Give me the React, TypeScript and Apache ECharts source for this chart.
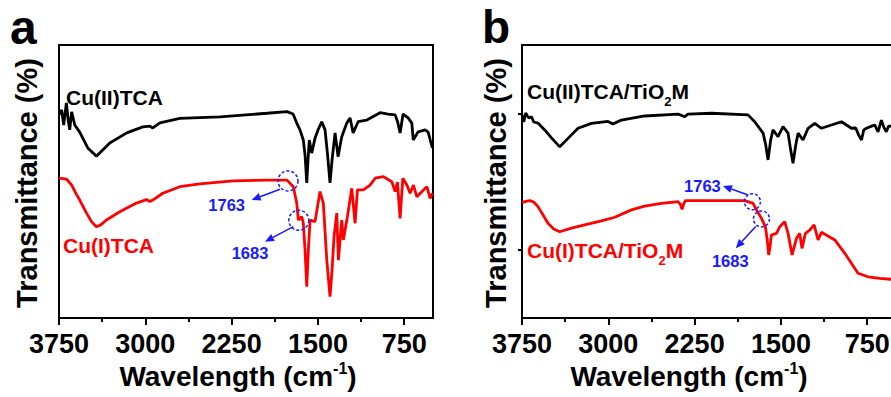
import React, { useEffect, useRef } from 'react';
import * as echarts from 'echarts';

const FONT = 'Liberation Sans, Arial, Helvetica, sans-serif';
const BLUE = '#1a1aff';

const X_TICKS = [3750, 3000, 2250, 1500, 750];
const X_MINOR = [3375, 2625, 1875, 1125];
const Y_TICKS_B = [25, 75];

// Panel a, Cu(II)TCA (black)
const aBlackWn = [3750, 3727, 3709, 3686, 3670, 3657, 3640, 3613, 3570, 3500, 3425, 3370, 3309, 3161, 3022, 2961, 2935, 2873, 2700, 2352, 1943, 1769, 1716, 1684, 1656, 1627, 1612, 1597, 1586, 1575, 1554, 1525, 1499, 1467, 1438, 1416, 1395, 1377, 1351, 1325, 1293, 1249, 1221, 1194, 1151, 1075, 960, 890, 829, 807, 786, 760, 716, 684, 672, 629, 568, 542, 524, 505];
const aBlackT = [74.4, 76.2, 70.7, 78.8, 72.5, 68.9, 75.5, 70.7, 68.1, 62.3, 59.3, 61.5, 64.1, 67.8, 70.0, 70.3, 69.6, 71.5, 73.1, 73.7, 75.0, 75.6, 74.7, 71.4, 68.9, 65.2, 59.7, 49.5, 57.9, 65.2, 60.4, 65.9, 68.9, 71.9, 68.9, 59.7, 49.5, 57.9, 67.8, 59.1, 66.4, 71.4, 73.3, 67.8, 71.9, 72.5, 75.2, 74.7, 74.4, 71.8, 67.8, 74.7, 73.3, 71.4, 65.2, 68.2, 68.9, 68.1, 65.2, 62.3];

// Panel a, Cu(I)TCA (red)
const aRedWn = [3750, 3686, 3640, 3596, 3570, 3512, 3466, 3425, 3387, 3338, 3222, 3077, 3022, 2990, 2961, 2935, 2848, 2700, 2526, 2239, 1943, 1769, 1714, 1684, 1670, 1641, 1627, 1612, 1597, 1583, 1568, 1525, 1482, 1453, 1423, 1395, 1377, 1360, 1336, 1322, 1293, 1279, 1244, 1206, 1177, 1157, 1105, 1047, 1003, 931, 858, 829, 809, 786, 762, 727, 699, 670, 640, 583, 553, 525, 505];
const aRedT = [51.2, 50.9, 48.7, 45.1, 43.2, 38.5, 35.2, 33.4, 34.1, 35.9, 38.9, 42.1, 42.9, 43.4, 42.7, 43.2, 45.7, 48.1, 49.1, 50.2, 50.5, 50.5, 48.1, 42.1, 35.9, 37.1, 34.8, 24.9, 11.5, 24.9, 35.9, 35.3, 46.3, 42.1, 21.2, 7.8, 17.6, 29.8, 38.4, 21.2, 35.9, 28.6, 37.1, 47.5, 34.7, 46.9, 46.9, 48.7, 51.2, 51.8, 49.9, 46.3, 49.8, 36.5, 51.2, 48.7, 45.7, 48.7, 44.4, 46.9, 48.1, 43.8, 45.7];

// Panel b, Cu(II)TCA/TiO2M (black)
const bBlackWn = [3750, 3735, 3718, 3692, 3668, 3648, 3611, 3553, 3492, 3422, 3350, 3263, 3147, 3003, 2959, 2886, 2684, 2394, 2336, 2308, 2104, 1786, 1728, 1655, 1632, 1612, 1589, 1569, 1525, 1482, 1438, 1415, 1395, 1371, 1351, 1308, 1264, 1206, 1148, 1061, 974, 887, 850, 824, 800, 780, 757, 711, 685, 656, 627, 607, 584, 564, 546, 500];
const bBlackT = [74.4, 71.8, 75.1, 73.3, 73.7, 71.8, 71.4, 68.9, 65.9, 62.7, 65.8, 69.5, 71.3, 72.0, 71.1, 72.5, 74.0, 74.7, 73.7, 74.7, 75.0, 74.4, 71.9, 67.7, 63.4, 57.9, 65.2, 68.9, 66.4, 70.1, 67.7, 61.5, 56.7, 63.4, 67.7, 65.2, 69.5, 71.3, 69.5, 70.7, 71.9, 69.5, 69.6, 67.0, 65.2, 68.9, 69.5, 70.3, 70.7, 68.2, 72.5, 70.0, 68.2, 70.3, 70.3, 70.0];

// Panel b, Cu(I)TCA/TiO2M (red)
const bRedWn = [3750, 3718, 3683, 3648, 3611, 3524, 3474, 3422, 3321, 3205, 3060, 2944, 2799, 2684, 2539, 2394, 2375, 2359, 2345, 2330, 2104, 1815, 1742, 1713, 1669, 1635, 1619, 1606, 1593, 1583, 1539, 1510, 1467, 1438, 1403, 1365, 1337, 1317, 1287, 1250, 1212, 1177, 1148, 1032, 945, 830, 743, 642, 546, 500];
const bRedT = [42.2, 42.7, 43.0, 42.5, 40.8, 34.7, 32.6, 31.6, 32.9, 34.1, 35.6, 36.9, 39.6, 41.0, 42.0, 42.6, 41.8, 39.8, 41.8, 43.0, 43.0, 43.0, 42.0, 39.6, 36.5, 33.4, 28.6, 23.1, 26.7, 30.4, 31.0, 33.4, 35.3, 31.0, 23.1, 29.2, 31.0, 25.5, 31.0, 32.2, 34.1, 28.6, 31.4, 28.6, 23.7, 16.4, 15.1, 14.5, 14.2, 14.0];

// annotation circles (wavenumber, transmittance)
const aCircles = [[1760, 50.2], [1666, 35.8]];
const bCircles = [[1748, 42.6], [1669, 36.3]];
const peakLabels = ['1763', '1683'];

const zip = (xs: number[], ys: number[]) => xs.map((x, i) => [x, ys[i]]);

function xAxesFor(gridIndex: number) {
  return [
    {
      gridIndex,
      type: 'value',
      inverse: true,
      min: 500,
      max: 3750,
      position: 'bottom',
      axisLine: { show: true, onZero: false, lineStyle: { color: '#000', width: 2 } },
      axisTick: { show: true, inside: false, length: 7, customValues: X_TICKS, lineStyle: { color: '#000', width: 2 } },
      axisLabel: {
        show: true,
        customValues: X_TICKS,
        margin: 12,
        color: '#000',
        fontSize: 27,
        fontWeight: 'bold',
        fontFamily: FONT,
        formatter: (v: number) => String(v),
      },
      splitLine: { show: false },
    },
    {
      gridIndex,
      type: 'value',
      inverse: true,
      min: 500,
      max: 3750,
      position: 'bottom',
      axisLine: { show: false, onZero: false },
      axisTick: { show: true, inside: false, length: 4, customValues: X_MINOR, lineStyle: { color: '#000', width: 2 } },
      axisLabel: { show: false },
      splitLine: { show: false },
    },
  ];
}

function yAxisFor(gridIndex: number, ticks: number[] | null) {
  return {
    gridIndex,
    type: 'value',
    min: 0,
    max: 100,
    axisLine: { show: false },
    axisTick: ticks
      ? { show: true, inside: false, length: 4, customValues: ticks, lineStyle: { color: '#000', width: 2 } }
      : { show: false },
    axisLabel: { show: false },
    splitLine: { show: false },
  };
}

function circleMark(coords: number[][], size: number) {
  return {
    symbol: 'circle',
    symbolSize: size,
    silent: true,
    label: { show: false },
    itemStyle: { color: 'rgba(0,0,0,0)', borderColor: BLUE, borderWidth: 1.5, borderType: [3, 2] },
    data: coords.map((c) => ({ coord: c })),
  };
}

function lineSeries(name: string, data: number[][], color: string, xi: number, yi: number, mark?: any) {
  return {
    name,
    type: 'line',
    xAxisIndex: xi,
    yAxisIndex: yi,
    data,
    showSymbol: false,
    symbol: 'none',
    lineStyle: { color, width: 2.8 },
    z: 2,
    markPoint: mark,
  };
}

function arrow(x1: number, y1: number, x2: number, y2: number) {
  const dx = x2 - x1;
  const dy = y2 - y1;
  const L = Math.hypot(dx, dy);
  const ux = dx / L;
  const uy = dy / L;
  const head = 9;
  const hw = 4;
  const bx = x2 - ux * head;
  const by = y2 - uy * head;
  return [
    { type: 'line', shape: { x1, y1, x2: bx, y2: by }, style: { stroke: BLUE, lineWidth: 1.5 } },
    {
      type: 'polygon',
      shape: { points: [[x2, y2], [bx - uy * hw, by + ux * hw], [bx + uy * hw, by - ux * hw]] },
      style: { fill: BLUE },
    },
  ];
}

function txt(text: string, x: number, y: number, size: number, color: string, align = 'left', rotation = 0) {
  return {
    type: 'text',
    x,
    y,
    rotation,
    style: {
      text,
      fill: color,
      fontSize: size,
      fontWeight: 'bold',
      fontFamily: FONT,
      align,
      verticalAlign: 'middle',
    },
  };
}

function subText(main: string, sub: string, tail: string, x: number, y: number, color: string) {
  return {
    type: 'text',
    x,
    y,
    style: {
      text: `{n|${main}}{s|${sub}}{n|${tail}}`,
      fill: color,
      align: 'left',
      verticalAlign: 'middle',
      rich: {
        n: { fontSize: 21, fontWeight: 'bold', fontFamily: FONT, fill: color, lineHeight: 34 },
        s: { fontSize: 13, fontWeight: 'bold', fontFamily: FONT, fill: color, lineHeight: 13, verticalAlign: 'bottom' },
      },
    },
  };
}

function wavelengthName(x: number, y: number) {
  return {
    type: 'text',
    x,
    y,
    style: {
      text: '{n|Wavelength (cm}{s|-1}{n|)}',
      align: 'center',
      verticalAlign: 'middle',
      rich: {
        n: { fontSize: 28, fontWeight: 'bold', fontFamily: FONT, fill: '#000', lineHeight: 32 },
        s: { fontSize: 16, fontWeight: 'bold', fontFamily: FONT, fill: '#000', lineHeight: 16, verticalAlign: 'top' },
      },
    },
  };
}

export default function App() {
  const ref = useRef<HTMLDivElement>(null);
  useEffect(() => {
    const chart = echarts.init(ref.current!, null, { renderer: 'svg' });
    const gridBase = {
      top: 45,
      width: 374,
      height: 273,
      show: true,
      borderColor: '#000',
      borderWidth: 2,
      backgroundColor: 'transparent',
      containLabel: false,
      outerBoundsMode: 'none',
    };
    const option: any = {
      animation: false,
      backgroundColor: '#fff',
      grid: [
        { ...gridBase, left: 59 },
        { ...gridBase, left: 522 },
      ],
      xAxis: [...xAxesFor(0), ...xAxesFor(1)],
      yAxis: [yAxisFor(0, null), yAxisFor(1, Y_TICKS_B)],
      series: [
        lineSeries('Cu(II)TCA', zip(aBlackWn, aBlackT), '#000', 0, 0),
        lineSeries('Cu(I)TCA', zip(aRedWn, aRedT), '#ff0000', 0, 0, circleMark(aCircles, 20)),
        lineSeries('Cu(II)TCA/TiO2M', zip(bBlackWn, bBlackT), '#000', 2, 1),
        lineSeries('Cu(I)TCA/TiO2M', zip(bRedWn, bRedT), '#ff0000', 2, 1, circleMark(bCircles, 16)),
      ],
    };
    chart.setOption(option);

    const pa = aCircles.map((c) => chart.convertToPixel({ xAxisIndex: 0, yAxisIndex: 0 } as any, c) as number[]);
    const pb = bCircles.map((c) => chart.convertToPixel({ xAxisIndex: 2, yAxisIndex: 1 } as any, c) as number[]);

    const graphics: any[] = [
      txt('a', 10, 27, 48, '#000'),
      txt('b', 482, 27, 46, '#000'),
      txt('Transmittance (%)', 27, 183, 29, '#000', 'center', Math.PI / 2),
      txt('Transmittance (%)', 496, 183, 29, '#000', 'center', Math.PI / 2),
      txt('Cu(II)TCA', 66, 97, 21, '#000'),
      txt('Cu(I)TCA', 63, 245, 21, '#ff0000'),
      subText('Cu(II)TCA/TiO', '2', 'M', 527, 91, '#000'),
      subText('Cu(I)TCA/TiO', '2', 'M', 527, 250, '#ff0000'),
      wavelengthName(238, 376),
      wavelengthName(689, 376),
      // panel a annotations
      ...arrow(pa[0][0] - 8, pa[0][1] + 8.3, pa[0][0] - 36.3, pa[0][1] + 19),
      txt(peakLabels[0], pa[0][0] - 61.3, pa[0][1] + 24, 16.5, BLUE, 'center'),
      ...arrow(pa[1][0] - 5.5, pa[1][1] + 6.4, pa[1][0] - 33.8, pa[1][1] + 21.4),
      txt(peakLabels[1], pa[1][0] - 48.8, pa[1][1] + 33, 16.5, BLUE, 'center'),
      // panel b annotations
      ...arrow(pb[0][0] - 4.4, pb[0][1] - 6.7, pb[0][0] - 29.4, pb[0][1] - 15.7),
      txt(peakLabels[0], pb[0][0] - 50, pb[0][1] - 15.7, 16.5, BLUE, 'center'),
      ...arrow(pb[1][0] - 5.7, pb[1][1] + 7.7, pb[1][0] - 25.7, pb[1][1] + 29.3),
      txt(peakLabels[1], pb[1][0] - 31.2, pb[1][1] + 41.8, 16.5, BLUE, 'center'),
    ];
    chart.setOption({ graphic: graphics });
    return () => chart.dispose();
  }, []);
  return (
    <div
      ref={ref}
      style={{ position: 'absolute', left: 0, top: 0, width: 891, height: 397, background: '#fff', overflow: 'hidden' }}
    />
  );
}
